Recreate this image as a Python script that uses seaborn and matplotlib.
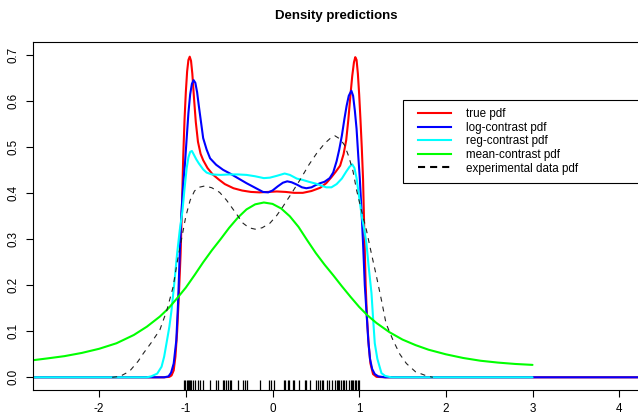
import numpy as np
import pandas as pd
import matplotlib
matplotlib.use("Agg")
import matplotlib.pyplot as plt
from matplotlib.lines import Line2D
from matplotlib.legend_handler import HandlerLine2D
import seaborn as sns

# ---------------- data ----------------
true_x = [-2.77, -1.25, -1.19, -1.165, -1.14, -1.12, -1.1, -1.08, -1.06, -1.045, -1.03, -1.015,
          -1.0, -0.985, -0.97, -0.955, -0.94, -0.925, -0.905, -0.885, -0.86, -0.83, -0.8, -0.75,
          -0.69, -0.62, -0.55, -0.45, -0.35, -0.25, -0.15, -0.05, 0.05, 0.15, 0.25, 0.35, 0.45,
          0.55, 0.62, 0.68, 0.73, 0.78, 0.82, 0.85, 0.875, 0.9, 0.92, 0.94, 0.955, 0.97, 0.985,
          1.0, 1.015, 1.03, 1.045, 1.06, 1.075, 1.09, 1.11, 1.13, 1.16, 1.2, 1.3, 4.3]
true_y = [0.0, 0.0, 0.001, 0.004, 0.015, 0.045, 0.1, 0.18, 0.27, 0.37, 0.48, 0.56,
          0.62, 0.665, 0.69, 0.697, 0.688, 0.66, 0.605, 0.555, 0.512, 0.486, 0.472, 0.455,
          0.441, 0.43, 0.42, 0.411, 0.406, 0.403, 0.402, 0.403, 0.404, 0.403, 0.401, 0.401, 0.405,
          0.412, 0.422, 0.435, 0.447, 0.46, 0.485, 0.515, 0.56, 0.615, 0.655, 0.685, 0.696, 0.69, 0.66,
          0.615, 0.56, 0.5, 0.43, 0.31, 0.2, 0.13, 0.07, 0.03, 0.007, 0.001, 0.0, 0.0]

log_x = [-2.77, -1.25, -1.2, -1.17, -1.14, -1.11, -1.09, -1.07, -1.05, -1.03, -1.01, -0.99,
         -0.97, -0.95, -0.93, -0.91, -0.89, -0.87, -0.85, -0.83, -0.8, -0.76, -0.72, -0.65,
         -0.57, -0.49, -0.4, -0.3, -0.2, -0.11, -0.05, 0.0, 0.06, 0.12, 0.17, 0.22, 0.28, 0.34,
         0.39, 0.45, 0.5, 0.55, 0.6, 0.66, 0.7, 0.74, 0.77, 0.8, 0.83, 0.855, 0.88, 0.91, 0.93,
         0.95, 0.97, 0.99, 1.007, 1.025, 1.045, 1.065, 1.085, 1.105, 1.125, 1.15, 1.18, 1.22,
         1.3, 4.3]
log_y = [0.0, 0.0, 0.002, 0.01, 0.03, 0.08, 0.16, 0.27, 0.36, 0.42, 0.465, 0.52,
         0.575, 0.615, 0.638, 0.646, 0.64, 0.62, 0.59, 0.562, 0.52, 0.495, 0.476, 0.462,
         0.451, 0.443, 0.433, 0.422, 0.412, 0.403, 0.402, 0.406, 0.415, 0.423, 0.426, 0.424, 0.419, 0.413,
         0.411, 0.413, 0.418, 0.422, 0.425, 0.433, 0.445, 0.47, 0.495, 0.525, 0.562, 0.59, 0.612, 0.623, 0.612,
         0.58, 0.54, 0.48, 0.433, 0.37, 0.29, 0.2, 0.14, 0.08, 0.04, 0.018, 0.007, 0.002,
         0.0, 0.0]

reg_x = [-2.77, -1.45, -1.4, -1.33, -1.28, -1.25, -1.223, -1.19, -1.165, -1.13, -1.1, -1.07,
         -1.04, -1.015, -0.99, -0.97, -0.95, -0.93, -0.91, -0.88, -0.85, -0.8, -0.76, -0.7,
         -0.6, -0.5, -0.4, -0.3, -0.2, -0.1, -0.03, 0.05, 0.14, 0.2, 0.28, 0.35, 0.42, 0.5,
         0.56, 0.62, 0.68, 0.74, 0.8, 0.85, 0.89, 0.92, 0.945, 0.97, 0.99, 1.007, 1.03, 1.06,
         1.084, 1.11, 1.142, 1.16, 1.18, 1.21, 1.257, 1.3, 1.37, 3.0]
reg_y = [0.0, 0.0, 0.002, 0.008, 0.023, 0.045, 0.074, 0.11, 0.146, 0.21, 0.27, 0.32,
         0.36, 0.41, 0.455, 0.478, 0.49, 0.492, 0.485, 0.474, 0.465, 0.452, 0.445, 0.441,
         0.44, 0.441, 0.441, 0.44, 0.437, 0.433, 0.434, 0.438, 0.443, 0.44, 0.432, 0.429, 0.425, 0.421,
         0.417, 0.413, 0.413, 0.42, 0.432, 0.447, 0.458, 0.463, 0.455, 0.433, 0.405, 0.382, 0.35, 0.32,
         0.291, 0.24, 0.183, 0.13, 0.074, 0.04, 0.009, 0.003, 0.0, 0.0]

mean_x = [-2.77, -2.6, -2.4, -2.2, -2.0, -1.8, -1.6, -1.45, -1.3, -1.2, -1.1, -1.0, -0.9,
          -0.8, -0.7, -0.6, -0.5, -0.4, -0.3, -0.2, -0.1, 0.0, 0.1, 0.2, 0.3, 0.4, 0.5, 0.6,
          0.7, 0.8, 0.9, 1.0, 1.1, 1.2, 1.35, 1.5, 1.65, 1.8, 2.0, 2.2, 2.4, 2.6, 2.8, 3.0]
mean_y = [0.037, 0.041, 0.046, 0.053, 0.062, 0.074, 0.092, 0.11, 0.132, 0.15, 0.172, 0.195,
          0.222, 0.25, 0.276, 0.3, 0.325, 0.347, 0.365, 0.376, 0.38, 0.377, 0.367, 0.35, 0.327,
          0.298, 0.27, 0.245, 0.222, 0.198, 0.175, 0.153, 0.134, 0.118, 0.098, 0.082, 0.07,
          0.06, 0.05, 0.042, 0.036, 0.032, 0.029, 0.027]

exp_x = [-1.85, -1.76, -1.65, -1.55, -1.49, -1.4, -1.3, -1.22, -1.146, -1.1, -1.05, -1.0,
         -0.95, -0.9, -0.85, -0.78, -0.7, -0.61, -0.53, -0.45, -0.34, -0.27, -0.2, -0.12,
         -0.03, 0.05, 0.12, 0.22, 0.32, 0.42, 0.51, 0.6, 0.67, 0.72, 0.78, 0.83, 0.88, 0.93,
         0.97, 1.03, 1.084, 1.14, 1.2, 1.26, 1.31, 1.39, 1.47, 1.545, 1.65, 1.78, 1.85]
exp_y = [0.0, 0.002, 0.013, 0.035, 0.052, 0.075, 0.103, 0.145, 0.197, 0.25, 0.3, 0.35,
         0.385, 0.405, 0.413, 0.416, 0.412, 0.402, 0.385, 0.364, 0.335, 0.325, 0.322, 0.325,
         0.335, 0.352, 0.371, 0.4, 0.43, 0.462, 0.487, 0.508, 0.52, 0.525, 0.518, 0.505, 0.48, 0.447,
         0.407, 0.36, 0.32, 0.27, 0.219, 0.165, 0.117, 0.081, 0.05, 0.03, 0.012, 0.003, 0.0]

rug_x = [-1.02, -1.005, -0.99, -0.98, -0.967, -0.951, -0.936, -0.917, -0.891, -0.86, -0.833, -0.802,
         -0.718, -0.656, -0.633, -0.572, -0.557, -0.537, -0.518, -0.495, -0.476, -0.399, -0.338,
         -0.322, -0.296, -0.142, -0.046, -0.012, 0.023, 0.127, 0.142, 0.177, 0.196, 0.234, 0.25,
         0.311, 0.372, 0.388, 0.434, 0.503, 0.526, 0.549, 0.568, 0.587, 0.633, 0.649, 0.687,
         0.722, 0.741, 0.756, 0.772, 0.791, 0.81, 0.829, 0.848, 0.887, 0.902, 0.917, 0.933,
         0.948, 0.963, 0.983, 1.002]

series_names = ["true pdf", "log-contrast pdf", "reg-contrast pdf", "mean-contrast pdf",
                "experimental data pdf"]
series_colors = ["#FF0000", "#0000FF", "#00FFFF", "#00FF00", "#000000"]

x_ticks = [-2, -1, 0, 1, 2, 3, 4]
x_ticklabels = ["-2", "-1", "0", "1", "2", "3", "4"]
y_ticks = [0.0, 0.1, 0.2, 0.3, 0.4, 0.5, 0.6, 0.7]
y_ticklabels = ["0.0", "0.1", "0.2", "0.3", "0.4", "0.5", "0.6", "0.7"]

# ---------------- figure ----------------
plt.rcParams["font.family"] = ["Liberation Sans", "DejaVu Sans"]
W, H = 638, 418
fig = plt.figure(figsize=(W / 100, H / 100), dpi=100)
L, R, T, B = 33, 638, 41.7, 390
ax = fig.add_axes([L / W, (H - B) / H, (R - L) / W, (B - T) / H])

lw = 1.5
curves = [(true_x, true_y), (log_x, log_y), (reg_x, reg_y), (mean_x, mean_y)]
for (xs, ys), c in zip(curves, series_colors[:4]):
    df = pd.DataFrame({"x": xs, "y": ys})
    sns.lineplot(data=df, x="x", y="y", color=c, lw=lw, ax=ax, estimator=None,
                 sort=False, solid_capstyle="round", solid_joinstyle="round")
df = pd.DataFrame({"x": exp_x, "y": exp_y})
sns.lineplot(data=df, x="x", y="y", color="#222222", lw=0.8, ax=ax, estimator=None,
             sort=False, linestyle=(0, (4.5, 4.5)))

sns.rugplot(x=rug_x, height=0.03, color="black", linewidth=0.9, ax=ax, expand_margins=False)

x0 = 272.5
sx = 86.67
y0 = 377.3
sy = 460.0
ax.set_xlim((L - x0) / sx, (R - x0) / sx)
ax.set_ylim((y0 - B) / sy, (y0 - T) / sy)

ax.set_xticks(x_ticks)
ax.set_xticklabels(x_ticklabels)
ax.set_yticks(y_ticks)
ax.set_yticklabels(y_ticklabels, rotation=90, va="center")
ax.set_xlabel("")
ax.set_ylabel("")
ax.tick_params(direction="out", length=5, width=0.8, labelsize=8.4, colors="black")
ax.tick_params(axis="x", pad=4)
ax.tick_params(axis="y", pad=5)
for s in ["left", "top", "bottom"]:
    ax.spines[s].set_linewidth(0.8)
    ax.spines[s].set_color("black")
ax.spines["right"].set_visible(False)

fig.text(336 / W, 1 - 16 / H, "Density predictions", ha="center", va="center",
         fontweight="bold", fontsize=9.5)

handles = []
for i, c in enumerate(series_colors):
    if i < 4:
        handles.append(Line2D([], [], color=c, lw=1.5))
    else:
        handles.append(Line2D([], [], color=c, lw=1.5, linestyle=(0, (3.4, 2.4))))
leg = ax.legend(handles, series_names, loc="upper left",
                bbox_to_anchor=(403 / W, (H - 183) / H, 0.45, 83 / H),
                bbox_transform=fig.transFigure, mode="expand",
                numpoints=2, handler_map={Line2D: HandlerLine2D(marker_pad=0.58)},
                handlelength=3.99, handletextpad=0.70, borderpad=0.70, labelspacing=0.137,
                fontsize=8.4, fancybox=False, framealpha=1, edgecolor="black",
                borderaxespad=0)
leg.get_frame().set_linewidth(0.8)

fig.savefig("out.png", dpi=100)
